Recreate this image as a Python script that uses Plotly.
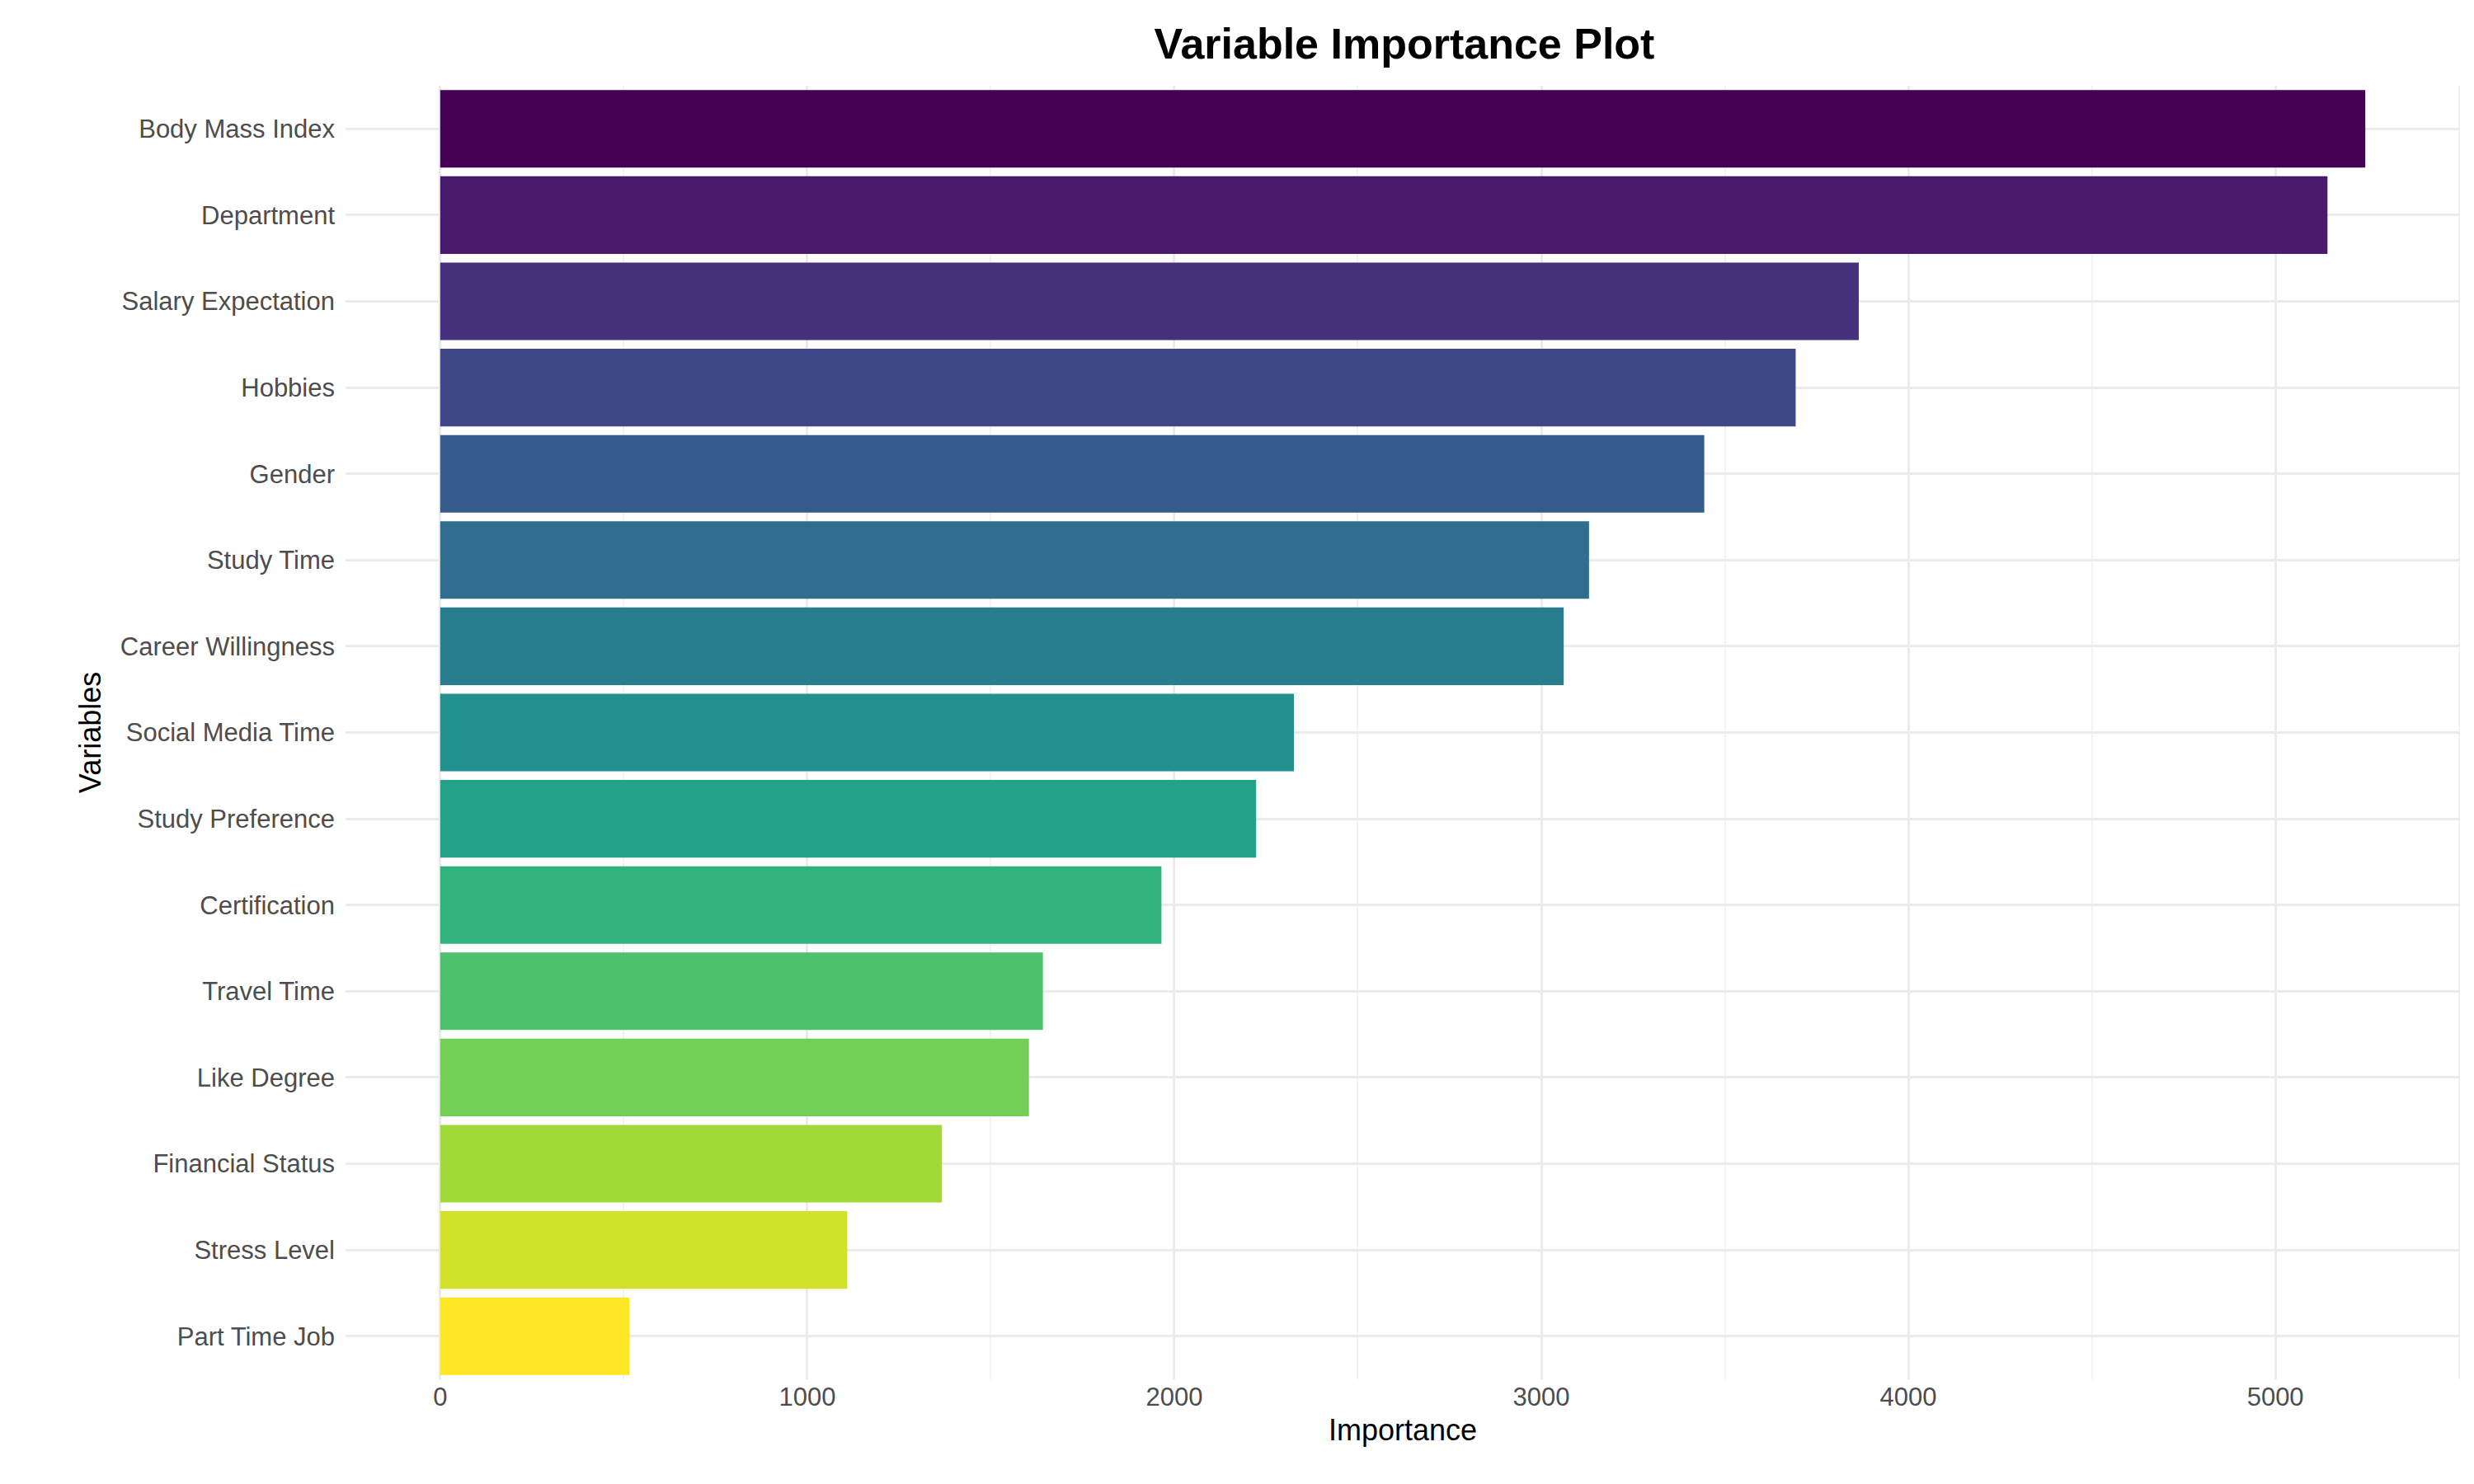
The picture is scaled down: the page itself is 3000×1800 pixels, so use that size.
import plotly.graph_objects as go
from plotly.colors import sample_colorscale

variables = ["Body Mass Index", "Department", "Salary Expectation", "Hobbies", "Gender",
             "Study Time", "Career Willingness", "Social Media Time", "Study Preference",
             "Certification", "Travel Time", "Like Degree", "Financial Status",
             "Stress Level", "Part Time Job"]
importance = [5245, 5142, 3865, 3693, 3444, 3130, 3061, 2326, 2223, 1965,
              1642, 1604, 1367, 1109, 516]

colors = sample_colorscale("Viridis", [i / (len(variables) - 1) for i in range(len(variables))])

fig = go.Figure(go.Bar(
    x=importance, y=variables, orientation="h",
    marker=dict(color=colors, line=dict(width=0)),
))

font = "Liberation Sans, Arial, sans-serif"
fig.update_layout(
    width=3000, height=1800,
    plot_bgcolor="white", paper_bgcolor="white",
    bargap=0.1,
    showlegend=False,
    margin=dict(l=411, r=25, t=96, b=135),
    font=dict(family=font, size=31, color="#4d4d4d"),
    title=dict(text="<b>Variable Importance Plot</b>", x=0.565, xanchor="center",
               y=0.985, yanchor="top", font=dict(size=52, color="black")),
)
fig.update_xaxes(
    range=[-258, 5503], dtick=1000, tick0=0, showgrid=True, gridcolor="#ebebeb", gridwidth=3,
    minor=dict(dtick=500, showgrid=True, gridcolor="#f3f3f3", gridwidth=1.5),
    zeroline=False, ticks="",
    title=dict(text="Importance", font=dict(size=36, color="black"), standoff=10),
)
fig.update_yaxes(
    autorange="reversed", showgrid=True, gridcolor="#ebebeb", gridwidth=3, ticks="",
    ticklabelstandoff=12,
    title=dict(text="Variables", font=dict(size=36, color="black"), standoff=12),
)
fig.write_html("out.html")
